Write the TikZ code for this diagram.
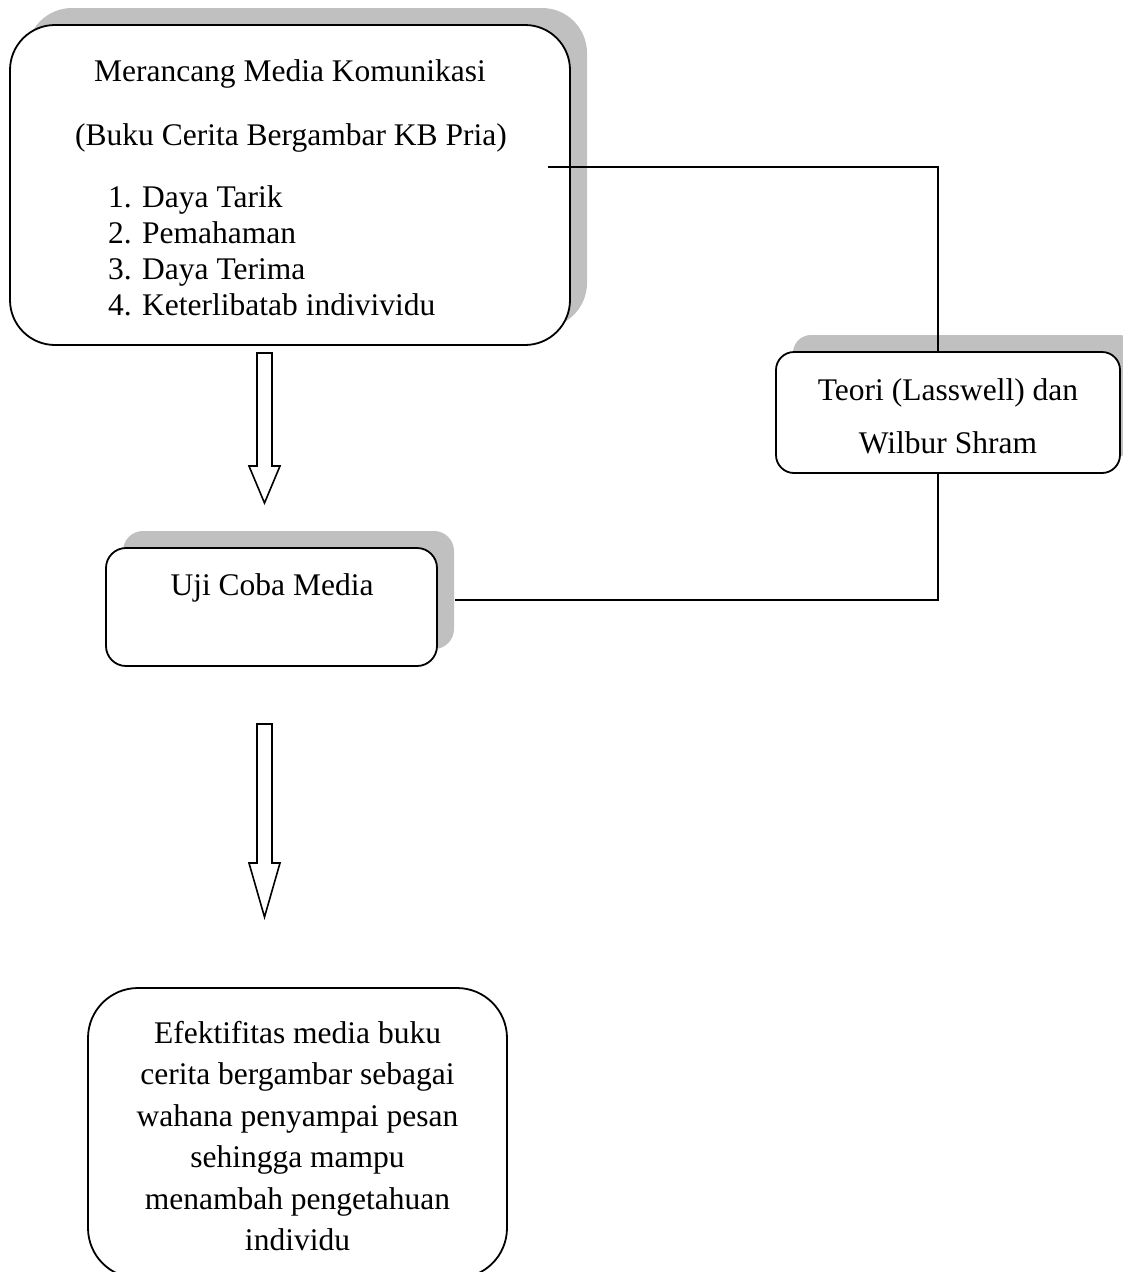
\documentclass[tikz,border=0pt]{standalone}
\usepackage{fontspec}
\setmainfont{Liberation Serif}
\usetikzlibrary{shadows}
\definecolor{shadowgray}{RGB}{192,192,192}
\begin{document}
\begin{tikzpicture}[x=1pt,y=-1pt,
  box/.style={draw=black, line width=1.8pt, fill=white, rectangle, inner sep=0pt, outer sep=0pt, anchor=north west},
  shad/.style={drop shadow={shadow xshift=17pt, shadow yshift=17pt, fill=shadowgray, opacity=1}},
  txt/.style={anchor=base, inner sep=0pt, font=\fontsize{31.5}{36}\selectfont},
  ltxt/.style={txt, anchor=base west},
  link/.style={draw=black, line width=1.5pt},
  blockarrow/.style={draw=black, line width=1.6pt, fill=white, line join=miter}]
\useasboundingbox (0,0) rectangle (1123,1272);

% Box 1
\node[box, shad, rounded corners=45pt, minimum width=560pt, minimum height=320pt] (b1) at (10,25) {};
\node[txt] (t1a) at (290,81) {Merancang Media Komunikasi};
\node[txt] (t1b) at (291,145) {(Buku Cerita Bergambar KB Pria)};
\node[ltxt] (n1) at (108,207) {1.};
\node[ltxt] (i1) at (142,207) {Daya Tarik};
\node[ltxt] (n2) at (108,243) {2.};
\node[ltxt] (i2) at (142,243) {Pemahaman};
\node[ltxt] (n3) at (108,279) {3.};
\node[ltxt] (i3) at (142,279) {Daya Terima};
\node[ltxt] (n4) at (108,315) {4.};
\node[ltxt] (i4) at (142,315) {Keterlibatab indivividu};

% Box 2 (Teori)
\node[box, shad, rounded corners=18pt, minimum width=344pt, minimum height=121pt] (b2) at (776,352) {};
\node[txt] (t2a) at (948,400) {Teori (Lasswell) dan};
\node[txt] (t2b) at (948,453) {Wilbur Shram};

% Box 3 (Uji)
\node[box, shad, rounded corners=20pt, minimum width=331pt, minimum height=118pt] (b3) at (106,548) {};
\node[txt] (t3) at (272,595) {Uji Coba Media};

% Box 4
\node[box, rounded corners=50pt, minimum width=419pt, minimum height=290pt] (b4) at (88,988) {};
\node[txt] (t4a) at (297.5,1043) {Efektifitas media buku};
\node[txt] (t4b) at (297.5,1084.5) {cerita bergambar sebagai};
\node[txt] (t4c) at (297.5,1126) {wahana penyampai pesan};
\node[txt] (t4d) at (297.5,1167.5) {sehingga mampu};
\node[txt] (t4e) at (297.5,1209) {menambah pengetahuan};
\node[txt] (t4f) at (297.5,1250.5) {individu};

% Connectors
\coordinate (c1) at (548,167);
\coordinate (c2) at (455,600);
\draw[link] (c1) -| ([xshift=-10pt]b2.north);
\draw[link] ([xshift=-10pt]b2.south) |- (c2);

% Block arrows
\draw[blockarrow] (257,353) -- (272,353) -- (272,466) -- (280,466) -- (264.5,503) -- (249,466) -- (257,466) -- cycle;
\draw[blockarrow] (257,724) -- (272,724) -- (272,863) -- (280,863) -- (264.5,917) -- (249,863) -- (257,863) -- cycle;
\end{tikzpicture}
\end{document}
